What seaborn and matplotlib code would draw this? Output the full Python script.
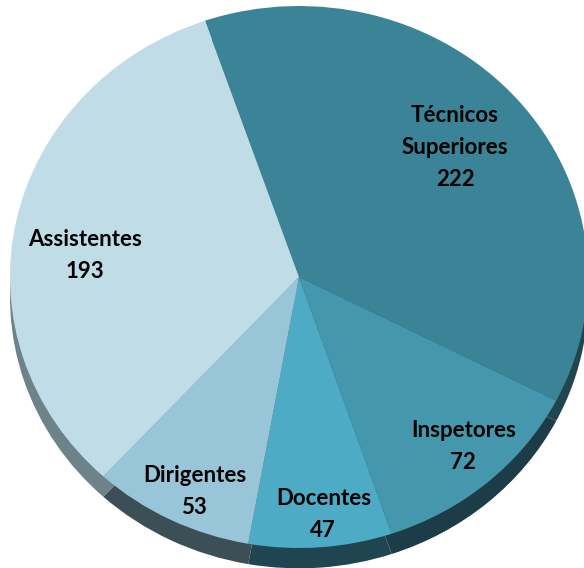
import matplotlib
matplotlib.use("Agg")
import numpy as np
import matplotlib.pyplot as plt
import seaborn as sns

# chart data
categories = ["Técnicos\nSuperiores", "Inspetores", "Docentes", "Dirigentes", "Assistentes"]
counts = [222, 72, 47, 53, 193]

# styling
top_colors = ["#3B8396", "#4597AD", "#4DABC5", "#98C5D8", "#C0DDE7"]
side_colors = ["#1E4550", "#1C3D47", "#1F4550", "#3D4F56", "#6E828A"]
label_radius = [0.72, 0.845, 0.88, 0.87, 0.745]
label_shift = [0.5, 1.5, 1.2, 1.8, 5.6]  # degrees off the wedge middle

sns.set_theme(style="white")
plt.rcParams["font.family"] = ["Lato", "DejaVu Sans"]

fig = plt.figure(figsize=(5.84, 5.68), dpi=100)
ax = fig.add_axes([0, 0, 1, 1])

# darker copy shifted down gives the 3D rim
ax.pie(counts, colors=side_colors, startangle=109, counterclock=False,
       radius=1.0, center=(0, -0.075), frame=True,
       wedgeprops=dict(linewidth=0))
wedges, _ = ax.pie(counts, colors=top_colors, startangle=109, counterclock=False,
                   radius=1.0, center=(0, 0), frame=True,
                   wedgeprops=dict(linewidth=0))

for w, name, val, r, sh in zip(wedges, categories, counts, label_radius, label_shift):
    mid = np.deg2rad((w.theta1 + w.theta2) / 2 + sh)
    ax.text(r * np.cos(mid), r * np.sin(mid), f"{name}\n{val}",
            ha="center", va="center", fontsize=16, fontweight="bold",
            color="black", linespacing=1.65)

ax.set_aspect("auto")
ax.set_xlim(-1.0346, 0.986)
ax.set_ylim(-1.0738, 1.0221)
ax.axis("off")

fig.savefig("out.png", dpi=100)
